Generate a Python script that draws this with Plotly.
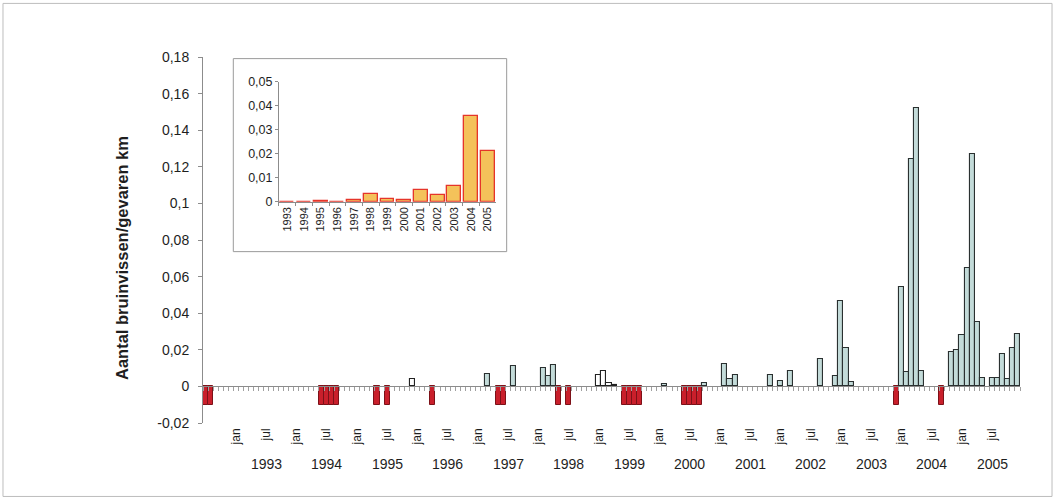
import plotly.graph_objects as go

# ---------------- categories (months Jul 1992 .. Dec 2005) ----------------
months = []
yy, mm = 1992, 7
while (yy, mm) <= (2005, 12):
    months.append(f"{yy}-{mm:02d}")
    mm += 1
    if mm > 12:
        mm = 1
        yy += 1

years = [str(y) for y in range(1993, 2006)]
tick_months = []
tick_text = []
for y in years:
    tick_months += [f"{y}-01", f"{y}-07"]
    tick_text += ["jan", "jul"]

# ---------------- monthly series ----------------
# surveyed months with sightings (bruinvissen per gevaren km)
blue_months = ["1997-03", "1997-08", "1998-02", "1998-03", "1998-04",
               "2000-02", "2000-10", "2001-02", "2001-03", "2001-04",
               "2001-11", "2002-01", "2002-03", "2002-09", "2002-12",
               "2003-01", "2003-02", "2003-03", "2004-01", "2004-02",
               "2004-03", "2004-04", "2004-05", "2004-11", "2004-12",
               "2005-01", "2005-02", "2005-03", "2005-04", "2005-05",
               "2005-07", "2005-08", "2005-09", "2005-10", "2005-11",
               "2005-12"]
blue_values = [0.007, 0.011, 0.010, 0.0055, 0.0115,
               0.0015, 0.002, 0.0125, 0.004, 0.006,
               0.0062, 0.003, 0.0085, 0.0148, 0.0055,
               0.0465, 0.021, 0.0025, 0.0545, 0.0078,
               0.124, 0.152, 0.0086, 0.019, 0.020,
               0.028, 0.0645, 0.127, 0.035, 0.0046,
               0.0046, 0.0046, 0.0177, 0.0042, 0.021,
               0.0285]

# open (white) bars
open_months = ["1995-12", "1999-01", "1999-02", "1999-03", "1999-04"]
open_values = [0.004, 0.006, 0.0085, 0.002, 0.0005]

# months without survey (red marker bars)
red_months = ["1992-07", "1992-08", "1994-06", "1994-07", "1994-08", "1994-09",
              "1995-05", "1995-07", "1996-04", "1997-05", "1997-06",
              "1998-05", "1998-07", "1999-06", "1999-07", "1999-08", "1999-09",
              "2000-06", "2000-07", "2000-08", "2000-09", "2003-12", "2004-09"]
red_values = [-0.01] * len(red_months)

# ---------------- yearly inset ----------------
inset_years = years
inset_values = [0.0, 0.0, 0.0004, 0.0, 0.0008, 0.0032, 0.0013, 0.0008,
                0.0049, 0.0028, 0.0067, 0.0358, 0.0211]

y_ticks = [-0.02, 0, 0.02, 0.04, 0.06, 0.08, 0.1, 0.12, 0.14, 0.16, 0.18]
y_ticktext = ["-0,02", "0", "0,02", "0,04", "0,06", "0,08", "0,1", "0,12",
              "0,14", "0,16", "0,18"]
inset_yticks = [0, 0.01, 0.02, 0.03, 0.04, 0.05]
inset_yticktext = ["0", "0,01", "0,02", "0,03", "0,04", "0,05"]

FONT = "Liberation Sans, Arial, sans-serif"
TXT = "#1e1e1e"
AX = "#8c8c8c"

fig = go.Figure()
fig.add_trace(go.Bar(x=red_months, y=red_values, width=1,
                     marker=dict(color="#c91f2b", line=dict(color="#7c1118", width=1)),
                     xaxis="x", yaxis="y", showlegend=False))
fig.add_trace(go.Bar(x=blue_months, y=blue_values, width=1,
                     marker=dict(color="#c3dbd9", line=dict(color="#2a3030", width=1.1)),
                     xaxis="x", yaxis="y", showlegend=False))
fig.add_trace(go.Bar(x=open_months, y=open_values, width=1,
                     marker=dict(color="#ffffff", line=dict(color="#222222", width=1.1)),
                     xaxis="x", yaxis="y", showlegend=False))
# carrier for the zero-line tick axis
fig.add_trace(go.Scatter(x=[], y=[], xaxis="x2", yaxis="y", showlegend=False))
fig.add_trace(go.Bar(x=inset_years, y=inset_values, width=0.83,
                     marker=dict(color="#f4c25a", line=dict(color="#e5352a", width=1.3)),
                     xaxis="x3", yaxis="y3", showlegend=False))

annotations = []
for y in years:
    annotations.append(dict(x=months.index(f"{y}-07"), y=-0.1107, xref="x", yref="paper",
                            text=y, showarrow=False, xanchor="center", yanchor="middle",
                            font=dict(family=FONT, size=14, color=TXT)))
annotations.append(dict(x=-0.0991, y=0.451, xref="paper", yref="paper",
                        text="<b>Aantal bruinvissen/gevaren km</b>", textangle=-90,
                        xanchor="center", yanchor="middle",
                        showarrow=False, font=dict(family=FONT, size=16.5, color=TXT)))

shapes = [
    dict(type="rect", xref="paper", yref="paper", x0=0.0371, x1=0.3717,
         y0=0.4682, y1=0.9956, line=dict(color="#9a9a9a", width=1),
         fillcolor="white", layer="below"),
    dict(type="rect", xref="paper", yref="paper", x0=-0.2448, x1=1.0392,
         y0=-0.2007, y1=1.1464, line=dict(color="#bdbdbd", width=1),
         fillcolor="rgba(0,0,0,0)", layer="below"),
]

fig.update_layout(
    width=1056, height=502,
    margin=dict(l=203, r=36, t=57, b=79),
    paper_bgcolor="white", plot_bgcolor="white",
    barmode="overlay", bargap=0,
    showlegend=False,
    font=dict(family=FONT, color=TXT),
    xaxis=dict(type="category", categoryorder="array", categoryarray=months,
               range=[-0.5, len(months) - 0.5], tickmode="array",
               tickvals=tick_months, ticktext=tick_text, tickangle=-90,
               ticks="", showline=False, showgrid=False, zeroline=False,
               tickfont=dict(family=FONT, size=12, color=TXT),
               ticklabelstandoff=2, anchor="y"),
    xaxis2=dict(overlaying="x", anchor="free", position=0.1, type="linear",
                range=[-0.5, len(months) - 0.5], tickmode="linear", tick0=-0.5, dtick=1,
                ticks="outside", ticklen=4, tickcolor="#a0a0a0", tickwidth=1,
                showticklabels=False, showline=True, linecolor=AX, linewidth=1,
                showgrid=False, zeroline=False),
    yaxis=dict(range=[-0.02, 0.18], tickmode="array", tickvals=y_ticks,
               ticktext=y_ticktext, ticks="outside", ticklen=4, tickcolor=AX,
               showline=True, linecolor=AX, linewidth=1, showgrid=False,
               zeroline=False, tickfont=dict(family=FONT, size=14, color=TXT),
               ticklabelstandoff=6, anchor="x"),
    xaxis3=dict(domain=[0.0930, 0.3586], anchor="y3", type="category",
                tickangle=-90, ticks="outside", ticklen=3, tickson="boundaries",
                tickcolor=AX, showline=True, linecolor=AX, showgrid=False,
                zeroline=False, tickfont=dict(family=FONT, size=11, color=TXT)),
    yaxis3=dict(domain=[0.6046, 0.9318], anchor="x3", range=[0, 0.05],
                tickmode="array", tickvals=inset_yticks, ticktext=inset_yticktext,
                ticks="outside", ticklen=3, tickcolor=AX, showline=True,
                linecolor=AX, showgrid=False, zeroline=False,
                tickfont=dict(family=FONT, size=12.5, color=TXT)),
    annotations=annotations,
    shapes=shapes,
)

fig.write_html("out.html", config={"displayModeBar": False},
               post_script="document.body.style.margin='0px';"
                           "document.body.style.overflow='hidden';")
